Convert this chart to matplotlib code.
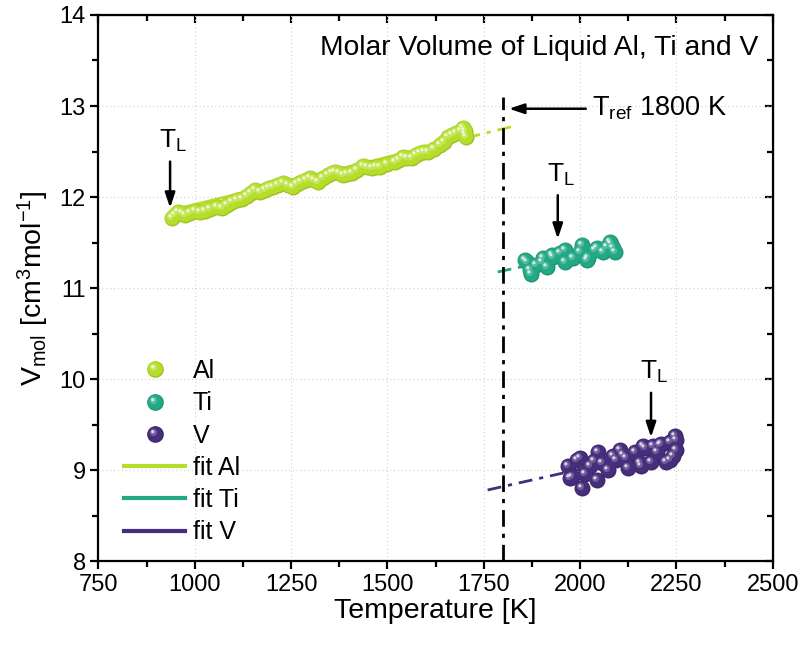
import numpy as np
import matplotlib
matplotlib.use('Agg')
import matplotlib.pyplot as plt
from matplotlib.path import Path
from matplotlib.markers import MarkerStyle
from matplotlib.lines import Line2D
from matplotlib.legend_handler import HandlerTuple
from matplotlib.colors import to_rgb

plt.rcParams['font.family'] = ['Liberation Sans', 'DejaVu Sans']
plt.rcParams['mathtext.fontset'] = 'custom'
plt.rcParams['mathtext.rm'] = 'Liberation Sans'
plt.rcParams['mathtext.it'] = 'Liberation Sans:italic'

# measured molar volumes
al_T = [940, 950, 957, 966, 974, 987, 1000, 1013, 1026, 1040, 1057, 1070, 1083, 1096,
        1109, 1122, 1135, 1146, 1156, 1170, 1182, 1193, 1203, 1216, 1229, 1242, 1255,
        1266, 1277, 1288, 1299, 1310, 1320, 1333, 1346, 1355, 1364, 1375, 1385, 1396,
        1407, 1422, 1437, 1448, 1459, 1470, 1480, 1500, 1519, 1530, 1540, 1552, 1563,
        1574, 1584, 1595, 1605, 1620, 1636, 1647, 1657, 1668, 1679, 1690, 1696, 1700,
        1702, 1705]
al_V = [11.77, 11.80, 11.84, 11.82, 11.80, 11.83, 11.85, 11.84, 11.85, 11.87, 11.89, 11.88, 11.91, 11.94,
        11.97, 11.98, 12.01, 12.04, 12.08, 12.06, 12.08, 12.10, 12.11, 12.13, 12.15, 12.13, 12.11,
        12.14, 12.17, 12.19, 12.21, 12.19, 12.17, 12.21, 12.24, 12.26, 12.28, 12.26, 12.24, 12.25,
        12.26, 12.30, 12.34, 12.33, 12.32, 12.33, 12.33, 12.36, 12.39, 12.41, 12.44, 12.43, 12.43,
        12.46, 12.48, 12.49, 12.50, 12.53, 12.57, 12.61, 12.66, 12.68, 12.70, 12.73, 12.76, 12.69,
        12.72, 12.66]

ti_T = [1857, 1861, 1870, 1872, 1885, 1900, 1903, 1913, 1926, 1930, 1947, 1960, 1962,
        1982, 2000, 2004, 2017, 2021, 2038, 2043, 2060, 2069, 2077, 2081, 2086, 2090]
ti_V = [11.31, 11.29, 11.20, 11.16, 11.25, 11.29, 11.33, 11.23, 11.36, 11.34, 11.38, 11.42, 11.29,
        11.33, 11.40, 11.47, 11.31, 11.33, 11.42, 11.44, 11.40, 11.45, 11.51, 11.48, 11.44, 11.40]

v_T = [1969, 1973, 1978, 1991, 1999, 2004, 2012, 2025, 2035, 2043, 2047, 2058, 2072, 2085,
       2094, 2103, 2110, 2120, 2125, 2142, 2155, 2159, 2164, 2168, 2185, 2190, 2200, 2207,
       2211, 2224, 2233, 2233, 2242, 2246, 2250, 2250]
v_V = [9.05, 8.91, 8.93, 9.11, 9.13, 8.80, 8.96, 9.04, 9.10, 8.89, 9.20, 9.08, 9.00, 9.15,
       9.11, 9.22, 9.17, 9.13, 9.02, 9.20, 9.08, 9.05, 9.26, 9.24, 9.09, 9.27, 9.20, 9.28,
       9.29, 9.09, 9.31, 9.11, 9.16, 9.37, 9.33, 9.22]

# linear fits V(T) = V_ref + slope*(T - T_ref)
T_ref = 1800
fit_Vref = {'Al': 12.75, 'Ti': 11.19, 'V': 8.82}
fit_slope = {'Al': 0.00104, 'Ti': 0.00090, 'V': 0.00095}
fit_solid = {'Al': (940, 1705), 'Ti': (1857, 2090), 'V': (1969, 2250)}
fit_dashed = {'Al': (1705, 1832), 'Ti': (1786, 1857), 'V': (1760, 1969)}

# liquidus temperatures (arrow x) and arrow span in V
TL_T = {'Al': 936, 'Ti': 1942, 'V': 2184}
TL_span = {'Al': (12.42, 11.85), 'Ti': (12.05, 11.51), 'V': (9.88, 9.33)}

colors = {'Al': '#b5de2b', 'Ti': '#22a884', 'V': '#472d7b'}


def spot(cx, cy, r):
    # circle marker placed off-centre inside a fixed [-1, 1] box
    c = Path.circle((cx, cy), r)
    verts = np.vstack([[[-1, -1], [1, 1]], c.vertices])
    codes = np.concatenate([[Path.MOVETO, Path.MOVETO], c.codes])
    return MarkerStyle(Path(verts, codes))


def mix(c, other, f):
    c = np.array(to_rgb(c))
    return tuple(c * (1 - f) + np.array(other) * f)


def sphere_layers(c):
    return [(spot(0, 0, 1.0), mix(c, (0, 0, 0), 0.12)),
            (spot(-0.06, 0.06, 0.88), c),
            (spot(-0.25, 0.25, 0.45), mix(c, (1, 1, 1), 0.22)),
            (spot(-0.33, 0.33, 0.2), mix(c, (1, 1, 1), 0.8))]


fig = plt.figure(figsize=(8, 6.51), dpi=100)
ax = fig.add_axes([0.123, 0.138, 0.843, 0.839])

msize = 11.5
for name, T, V in [('Al', al_T, al_V), ('Ti', ti_T, ti_V), ('V', v_T, v_V)]:
    c = colors[name]
    a, b = fit_solid[name]
    t = np.array([a, b])
    ax.plot(t, fit_Vref[name] + fit_slope[name] * (t - T_ref), color=c, lw=2, zorder=2)
    a, b = fit_dashed[name]
    t = np.array([a, b])
    ax.plot(t, fit_Vref[name] + fit_slope[name] * (t - T_ref), color=c, lw=2,
            dashes=(5, 2.5, 1.5, 2.5), zorder=2)
    for m, col in sphere_layers(c):
        ax.scatter(T, V, marker=m, s=msize ** 2, color=col, linewidths=0, zorder=3)

# reference temperature
ax.plot([T_ref, T_ref], [8, 13.1], color='black', lw=2, dashes=(6, 2.5, 1.5, 2.5), zorder=4)
ax.annotate('', xy=(T_ref + 8, 12.97), xytext=(2022, 12.97),
            arrowprops=dict(arrowstyle='-|>,head_length=0.9,head_width=0.3', color='black', lw=1.8))
ax.text(2030, 12.97, r'T$_{\mathrm{ref}}$ 1800 K', fontsize=19.5, ha='left', va='center')

for name in ['Al', 'Ti', 'V']:
    y0, y1 = TL_span[name]
    ax.annotate('', xy=(TL_T[name], y1), xytext=(TL_T[name], y0),
                arrowprops=dict(arrowstyle='-|>,head_length=0.9,head_width=0.3', color='black', lw=1.8))
    ax.text(TL_T[name] + 8, y0 + 0.05, r'T$_{\mathrm{L}}$', fontsize=19, ha='center', va='bottom')

ax.text(0.978, 0.94, 'Molar Volume of Liquid Al, Ti and V', transform=ax.transAxes,
        fontsize=20.3, ha='right', va='center')

ax.set_xlim(750, 2500)
ax.set_ylim(8, 14)
ax.set_xticks(np.arange(750, 2501, 250))
ax.set_yticks(np.arange(8, 14.1, 1))
ax.set_xticks(np.arange(875, 2500, 250), minor=True)
ax.set_yticks(np.arange(8.5, 14, 1), minor=True)
ax.grid(True, which='major', color='#d0d0d0', linestyle=(0, (1, 2.5)), lw=0.8)
ax.set_axisbelow(True)
for s in ax.spines.values():
    s.set_linewidth(1.6)
ax.tick_params(which='both', direction='out', width=1.6, labelsize=17, top=False, right=False)
ax.tick_params(which='major', length=6, pad=3)
ax.tick_params(which='minor', length=4)
ax.set_xlabel('Temperature [K]', fontsize=20.5, labelpad=2)
ax.set_ylabel(r'V$_{\mathrm{mol}}$ [cm$^{3}$mol$^{-1}$]', fontsize=20.5, labelpad=6)

# inward ticks on the right and top edges
sec_y = ax.secondary_yaxis('right')
sec_y.set_yticks(np.arange(8, 14.1, 1))
sec_y.set_yticks(np.arange(8.5, 14, 1), minor=True)
sec_y.tick_params(which='both', direction='in', width=1.6, labelright=False)
sec_y.tick_params(which='major', length=6)
sec_y.tick_params(which='minor', length=4)
sec_x = ax.secondary_xaxis('top')
sec_x.set_xticks(np.arange(750, 2501, 250))
sec_x.set_xticks(np.arange(875, 2500, 250), minor=True)
sec_x.tick_params(which='both', direction='in', width=1.6, labeltop=False)
sec_x.tick_params(which='major', length=6)
sec_x.tick_params(which='minor', length=4)

handles = []
labels = []
for name in ['Al', 'Ti', 'V']:
    parts = [Line2D([], [], ls='none', marker=m, markersize=12, markerfacecolor=col,
                    markeredgewidth=0) for m, col in sphere_layers(colors[name])]
    handles.append(tuple(parts))
    labels.append(name)
for name in ['Al', 'Ti', 'V']:
    handles.append(Line2D([], [], color=colors[name], lw=3))
    labels.append('fit ' + name)
ax.legend(handles, labels, handler_map={tuple: HandlerTuple(ndivide=1, pad=0)},
          loc='upper left', bbox_to_anchor=(0.038, 0.37), frameon=False, fontsize=18,
          handlelength=2.45, handletextpad=0.3, labelspacing=0.33, borderaxespad=0, borderpad=0)

fig.savefig('out.png', dpi=100)
